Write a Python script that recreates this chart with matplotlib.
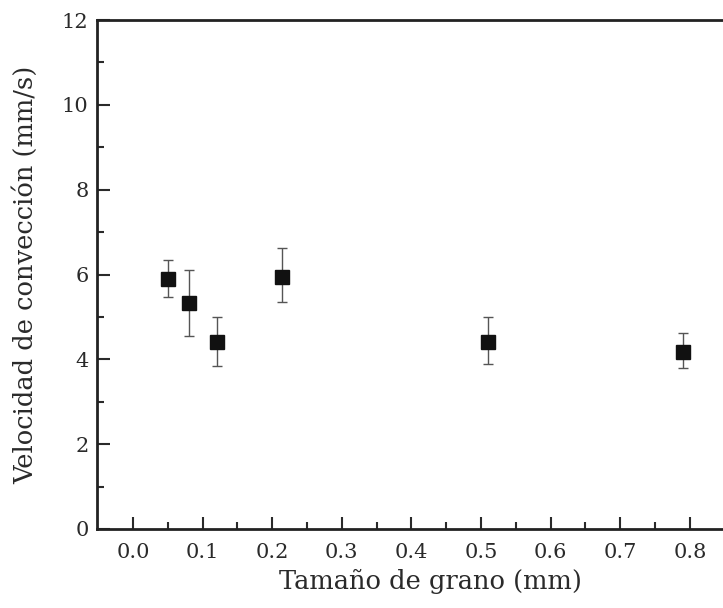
import numpy as np
import matplotlib.pyplot as plt

# grain size (mm) vs convection velocity (mm/s)
grano = [0.05, 0.08, 0.12, 0.214, 0.51, 0.79]
velocidad = [5.90, 5.32, 4.40, 5.93, 4.40, 4.18]
err_sup = [0.44, 0.78, 0.60, 0.70, 0.60, 0.43]
err_inf = [0.43, 0.77, 0.55, 0.58, 0.50, 0.38]

plt.rcParams['font.family'] = ['DejaVu Serif']

fig = plt.figure(figsize=(7.23, 6.08), dpi=100)
ax = fig.add_axes([0.134, 0.130, 0.876, 0.837])

ax.errorbar(grano, velocidad, yerr=[err_inf, err_sup], fmt='none',
            ecolor='#555555', elinewidth=1.0, capsize=3.5, capthick=1.0, zorder=2)
ax.plot(grano, velocidad, 's', color='#111111', markersize=10, zorder=3)

ax.set_xlim(-0.052, 0.858)
ax.set_ylim(0, 12)
ax.set_xticks(np.arange(0, 0.81, 0.1))
ax.set_xticks(np.arange(0.05, 0.86, 0.1), minor=True)
ax.set_yticks(np.arange(0, 13, 2))
ax.set_yticks(np.arange(1, 12, 2), minor=True)
ax.xaxis.set_major_formatter(plt.FuncFormatter(lambda v, p: f"{v:.1f}"))

ax.tick_params(which='both', direction='in', top=False, right=False,
               labelsize=15, colors='#2a2a2a', width=1.5)
ax.tick_params(axis='x', pad=10)
ax.tick_params(axis='y', pad=6)
ax.tick_params(which='major', length=9)
ax.tick_params(which='minor', length=5)
for s in ax.spines.values():
    s.set_linewidth(2)
    s.set_color('#222222')
ax.spines['right'].set_visible(False)

ax.set_xlabel('Tamaño de grano (mm)', fontsize=18.5, color='#2a2a2a')
ax.set_ylabel('Velocidad de convección (mm/s)', fontsize=18.5, color='#2a2a2a')
ax.xaxis.set_label_coords(0.526, -0.079)
ax.yaxis.set_label_coords(-0.092, 0.5)

fig.savefig('out.png', dpi=100)
